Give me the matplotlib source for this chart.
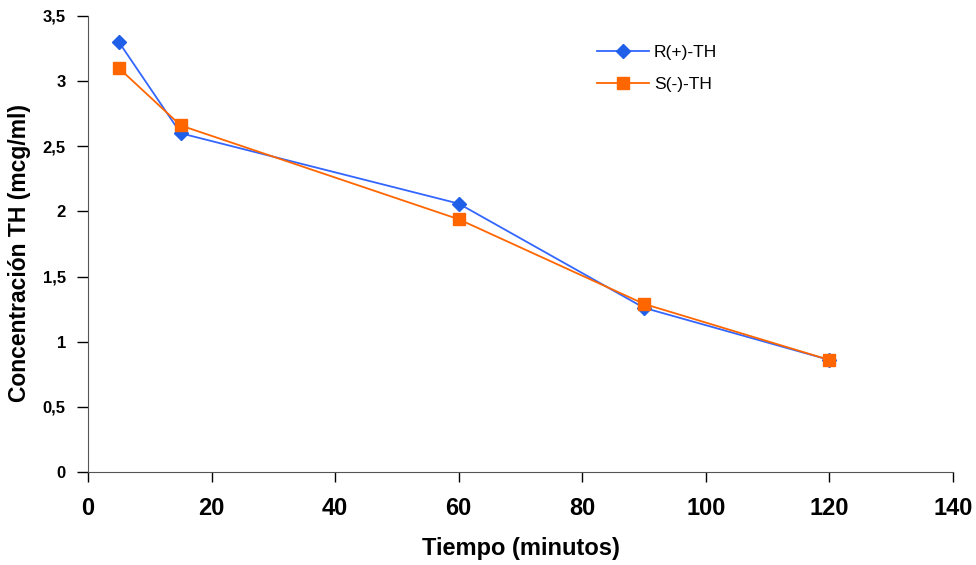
import matplotlib.pyplot as plt

plt.rcParams['font.family'] = ['Liberation Sans', 'DejaVu Sans']

# tiempos de muestreo (minutos) y concentraciones (mcg/ml)
tiempo = [5, 15, 60, 90, 120]
r_th = [3.30, 2.60, 2.06, 1.26, 0.86]
s_th = [3.10, 2.66, 1.94, 1.29, 0.86]

x_ticks = [0, 20, 40, 60, 80, 100, 120, 140]
y_ticks = [0, 0.5, 1, 1.5, 2, 2.5, 3, 3.5]
y_labels = ['0', '0,5', '1', '1,5', '2', '2,5', '3', '3,5']

fig = plt.figure(figsize=(9.76, 5.65), dpi=100)
ax = fig.add_axes([88 / 976, 1 - 472 / 565, 865 / 976, 456 / 565])

ax.plot(tiempo, r_th, color='#3366FF', lw=1.3, marker='D', ms=7,
        mfc='#2060E8', mec='#2060E8', label='R(+)-TH', zorder=3)
ax.plot(tiempo, s_th, color='#FF6600', lw=1.3, marker='s', ms=9,
        mfc='#FF6600', mec='#FF6600', label='S(-)-TH', zorder=4)

ax.set_xlim(0, 140)
ax.set_ylim(0, 3.5)
ax.set_xticks(x_ticks)
ax.set_yticks(y_ticks)
ax.set_yticklabels(y_labels)

for lbl in ax.get_xticklabels():
    lbl.set_fontsize(17)
    lbl.set_fontweight('bold')
for lbl in ax.get_yticklabels():
    lbl.set_fontsize(12)
    lbl.set_fontweight('bold')

ax.tick_params(axis='x', direction='out', length=7, width=1, pad=11, colors='black')
ax.tick_params(axis='y', direction='out', length=8, width=1, pad=8, colors='black')

ax.spines['top'].set_visible(False)
ax.spines['right'].set_visible(False)
ax.spines['left'].set_color('#555555')
ax.spines['bottom'].set_color('#555555')

ax.set_xlabel('Tiempo (minutos)', fontsize=17, fontweight='bold', labelpad=12)
ax.set_ylabel('Concentración TH (mcg/ml)', fontsize=16.5, fontweight='bold')
ax.yaxis.set_label_coords(-0.066, 0.48)

ax.legend(loc='upper left', bbox_to_anchor=(0.57, 0.97), frameon=False,
          fontsize=12.5, handlelength=3.0, labelspacing=0.95, handletextpad=0.3)

fig.savefig('out.png', dpi=100)
